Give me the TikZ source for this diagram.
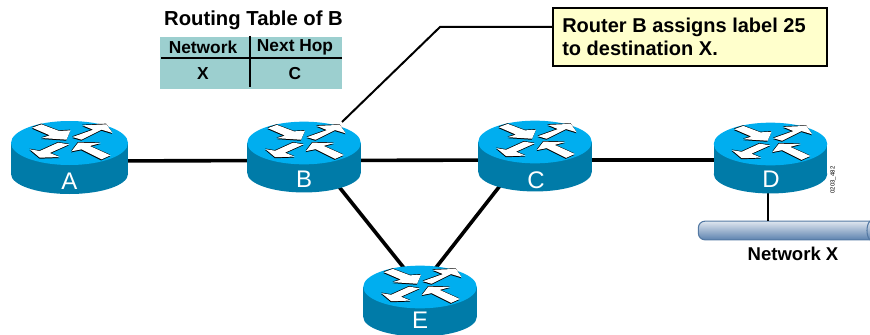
\documentclass[tikz,border=0pt]{standalone}
\usepackage{fontspec}
\setmainfont{Liberation Sans}
\definecolor{routertop}{RGB}{0,174,239}
\definecolor{routerside}{RGB}{0,123,168}
\definecolor{tablefill}{RGB}{156,207,207}
\definecolor{notefill}{RGB}{255,255,204}
\definecolor{netedge}{RGB}{84,121,163}
\definecolor{netdark}{RGB}{92,130,175}
\tikzset{
	routerbox/.style={minimum width=87pt, minimum height=55pt, inner sep=0pt},
	routerlabel/.style={text=white, font=\fontsize{18}{20}\selectfont, inner sep=0pt},
	link/.style={line width=2.7pt},
	thinlink/.style={line width=1.5pt},
	title/.style={font=\bfseries\fontsize{15.2}{17}\selectfont, inner sep=0pt},
	cell/.style={font=\bfseries\fontsize{13}{15}\selectfont, inner sep=0pt},
	router/.pic={
		\fill[routerside] (-58.5,0) rectangle (58.5,31);
		\fill[routerside] (0,31) ellipse[x radius=58.5, y radius=20];
		\fill[routertop] (0,0) ellipse[x radius=58.5, y radius=22];
		\begin{scope}[x=.25pt, y=-.25pt, shift={(-209,-128)}]
			\foreach \dx/\dy/\col in {-1/-2/black, -1/3/black, 0/0/white} {
				\fill[\col, shift={(\dx,\dy)}] (97,82) -- (125,72) -- (178,92) -- (212,90) -- (200,118) -- (125,113) -- (150,105) -- cycle;
				\fill[\col, shift={(\dx,\dy)}] (218,110) -- (280,88) -- (248,75) -- (320,72) -- (338,98) -- (305,88) -- (245,118) -- cycle;
				\fill[\col, shift={(\dx,\dy)}] (208,132) -- (150,158) -- (180,170) -- (120,172) -- (90,147) -- (120,152) -- (175,127) -- cycle;
				\fill[\col, shift={(\dx,\dy)}] (215,153) -- (235,127) -- (303,128) -- (270,137) -- (332,165) -- (305,177) -- (245,147) -- cycle;
			}
		\end{scope}
	}
}
\begin{document}
\begin{tikzpicture}[x=.75pt, y=-.75pt]
	\useasboundingbox (0,0) rectangle (870,335);
	% routers
	\node [routerbox] (A) at (69.5,161) {};
	\node [routerbox] (B) at (304,160.5) {};
	\node [routerbox] (C) at (535,160) {};
	\node [routerbox] (D) at (768,160) {};
	\coordinate (Bhub) at (304,143);
	\coordinate (Chub) at (535,141);
	\coordinate (Ehub) at (420,288);
	\coordinate (bend) at (440,27);
	\coordinate (Bcorner) at (342,122);
	% network bar
	\node [draw=netedge, line width=.8pt, rounded corners=5pt, top color=netdark!20, bottom color=netdark, minimum width=190pt, minimum height=14pt, inner sep=0pt] (netx) at (825,230.5) {};
	\draw [netedge, line width=.8pt] (870,221) .. controls (866,225) and (866,236) .. (870,240);
	\node [title, font=\bfseries\fontsize{13.9}{16}\selectfont] (netlabel) at (793,254) {Network X};
	% table
	\fill [tablefill] (160,37) rectangle (342,89);
	\node [title] (tabletitle) at (253.5,20) {Routing Table of B};
	\node [cell] (h1) at (203,47) {Network};
	\node [cell] (h2) at (295,47) {Next Hop};
	\node [cell] (c1) at (203,74) {X};
	\node [cell] (c2) at (295,74) {C};
	\coordinate (hl) at (161,58);
	\coordinate (hr) at (342,58);
	\coordinate (vt) at (250,36);
	\coordinate (vb) at (250,87);
	\draw [thinlink] (hl) -- (hr);
	\draw [thinlink] (vt) -- (vb);
	% callout
	\node [draw, line width=1.5pt, fill=notefill, minimum width=205.5pt, minimum height=43.5pt, inner sep=0pt] (note) at (690,37) {};
	\node [align=left, anchor=west, inner sep=0pt, font=\bfseries\fontsize{15}{17.5}\selectfont] (notetext) at (562,37) {Router B assigns label 25\\to destination X.};
	\draw [thinlink] (Bcorner) -- (bend) -- (bend -| note.west);
	% links
	\draw [link] (A.center) -- (B.center) -- (C.center) -- (D.center);
	\draw [link] (Bhub) -- (Ehub);
	\draw [link] (Chub) -- (Ehub);
	\draw [thinlink] (D.center) -- (D |- netx.north);
	% router bodies on top of the links
	\pic at (69.5,143) {router};
	\pic [xscale=.97, yscale=.97] at (304,143) {router};
	\pic [xscale=.97, yscale=.97] at (535,142) {router};
	\pic [xscale=.97, yscale=.97] at (770.5,144) {router};
	\pic [xscale=.97, yscale=.97] at (420,287) {router};
	\node [routerlabel] (Alabel) at (69.5,181) {A};
	\node [routerlabel] (Blabel) at (304,179) {B};
	\node [routerlabel] (Clabel) at (536,180) {C};
	\node [routerlabel] (Dlabel) at (771,179) {D};
	\node [routerlabel] (Elabel) at (420,320) {E};
	\node [rotate=90, font=\fontsize{4.5}{5}\selectfont, inner sep=0pt] (stamp) at (833,180) {0203\_482};
\end{tikzpicture}
\end{document}
